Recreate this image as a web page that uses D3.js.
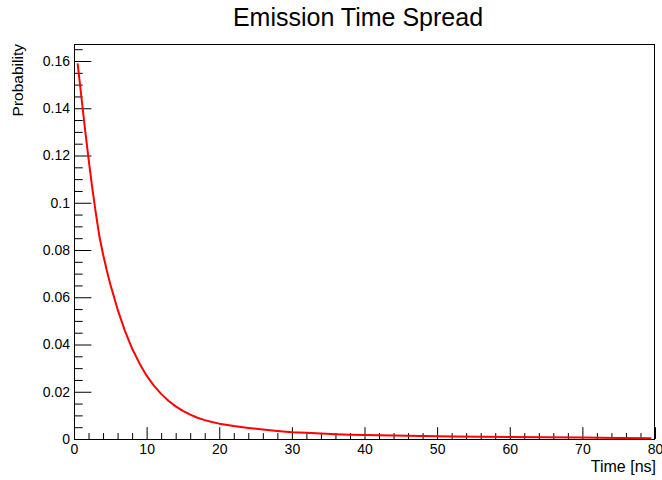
<!DOCTYPE html>
<html>
<head>
<meta charset="utf-8">
<script src="https://cdn.jsdelivr.net/npm/d3@7"></script>
<style>
  body { margin: 0; background: #fff; }
  svg { display: block; }
  text { font-family: "Liberation Sans", Arial, Helvetica, sans-serif; fill: #000; }
</style>
</head>
<body>
<svg id="chart" width="662" height="480"></svg>
<script>
// ---- data ----
const chartTitle = "Emission Time Spread";
const xTitle = "Time [ns]";
const yTitle = "Probability";
const time = [0.5, 1, 1.5, 2, 2.5, 3, 3.5, 4, 4.5, 5, 6, 7, 8, 9, 10, 11, 12, 13, 14, 15,
              16, 17, 18, 19, 20, 22, 24, 26, 28, 30, 32, 34, 36, 38, 40, 44, 48, 52, 56, 60,
              65, 70, 75, 79.5];
const probability = [0.159, 0.1453, 0.1316, 0.1187, 0.1066, 0.0957, 0.0857, 0.0782, 0.0715, 0.0655,
                     0.0549, 0.0459, 0.0383, 0.0321, 0.0268, 0.0226, 0.0191, 0.0162, 0.0138, 0.0119,
                     0.0103, 0.0090, 0.0080, 0.0072, 0.0065, 0.0055, 0.0047, 0.0040, 0.0034, 0.0029,
                     0.0026, 0.0023, 0.0020, 0.0018, 0.0017, 0.0015, 0.0013, 0.0011, 0.00095, 0.0008,
                     0.0007, 0.0006, 0.0004, 0.0003];
const xDomain = [0, 80];
const yDomain = [0, 0.1672];
const xMajorTicks = [0, 10, 20, 30, 40, 50, 60, 70, 80];
const yMajorTicks = [0, 0.02, 0.04, 0.06, 0.08, 0.1, 0.12, 0.14, 0.16];
const xMinorStep = 2;
const yMinorStep = 0.005;

// ---- layout ----
const svg = d3.select("#chart");
const frame = { left: 74, right: 655, top: 44, bottom: 439 };
const fw = frame.right - frame.left, fh = frame.bottom - frame.top;

const x = d3.scaleLinear().domain(xDomain).range([frame.left, frame.right]);
const y = d3.scaleLinear().domain(yDomain).range([frame.bottom, frame.top]);

const xMinor = d3.range(xDomain[0], xDomain[1] + 1e-9, xMinorStep).filter(v => !xMajorTicks.some(m => Math.abs(m - v) < 1e-9));
const yMinor = d3.range(0, yDomain[1], yMinorStep).filter(v => !yMajorTicks.some(m => Math.abs(m - v) < 1e-9));

const xMajLen = 0.03 * fh, xMinLen = xMajLen / 2;
const yMajLen = 0.03 * fw, yMinLen = yMajLen / 2;
const labelSize = 14;

// X axis (ticks pointing up, inside)
const gx = svg.append("g").attr("transform", `translate(0,${frame.bottom})`);
gx.call(d3.axisBottom(x).tickValues(xMajorTicks).tickSize(-xMajLen).tickPadding(5).tickFormat(d3.format("d")));
gx.append("g").call(d3.axisBottom(x).tickValues(xMinor).tickSize(-xMinLen).tickFormat(""));
gx.selectAll(".domain").remove();
gx.selectAll("text").attr("font-size", labelSize).style("font-family", "Liberation Sans, Arial, sans-serif").attr("fill", "#000");
gx.selectAll("line").attr("stroke", "#000");

// Y axis (ticks pointing right, inside)
const gy = svg.append("g").attr("transform", `translate(${frame.left},0)`);
gy.call(d3.axisLeft(y).tickValues(yMajorTicks).tickSize(-yMajLen).tickPadding(4).tickFormat(d => d === 0 ? "0" : d3.format("")(+d.toFixed(2))));
gy.append("g").call(d3.axisLeft(y).tickValues(yMinor).tickSize(-yMinLen).tickFormat(""));
gy.selectAll(".domain").remove();
gy.selectAll("text").attr("font-size", labelSize).style("font-family", "Liberation Sans, Arial, sans-serif").attr("fill", "#000");
gy.selectAll("line").attr("stroke", "#000");

// Frame
svg.append("rect")
  .attr("x", frame.left + 0.5).attr("y", frame.top + 0.5)
  .attr("width", fw - 1).attr("height", fh)
  .attr("fill", "none").attr("stroke", "#000").attr("stroke-width", 1);

// Curve
const line = d3.line().x((d, i) => x(time[i])).y(d => y(d)).curve(d3.curveLinear);
svg.append("path")
  .datum(probability)
  .attr("d", line)
  .attr("fill", "none")
  .attr("stroke", "#ff0000")
  .attr("stroke-width", 2)
  .attr("stroke-linejoin", "round");

// Titles
svg.append("text")
  .attr("x", 358).attr("y", 26)
  .attr("text-anchor", "middle")
  .attr("font-size", 25)
  .text(chartTitle);

svg.append("text")
  .attr("x", frame.right + 1).attr("y", 472)
  .attr("text-anchor", "end")
  .attr("font-size", 16)
  .text(xTitle);

svg.append("text")
  .attr("transform", `translate(23,${frame.top}) rotate(-90)`)
  .attr("text-anchor", "end")
  .attr("font-size", 15.5)
  .text(yTitle);
</script>
</body>
</html>
